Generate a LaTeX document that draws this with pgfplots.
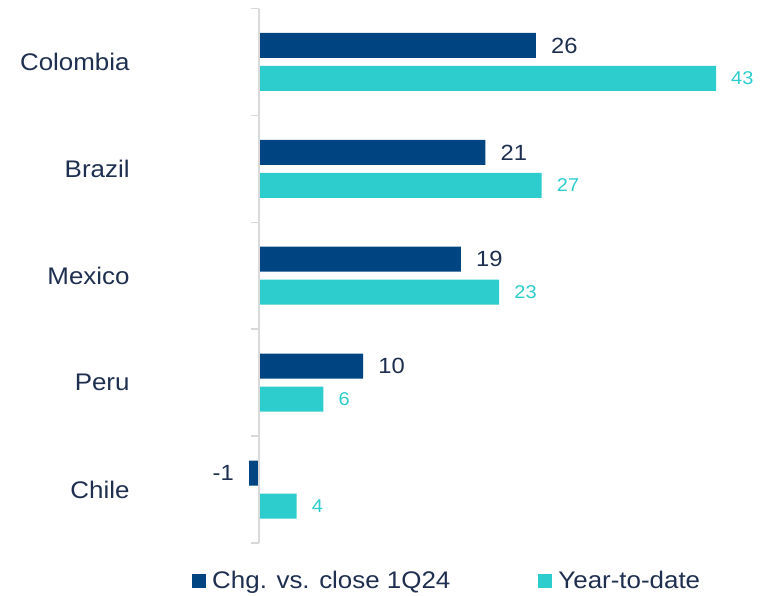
\documentclass[border=0pt]{standalone}
\usepackage{pgfplots}
\pgfplotsset{compat=1.18}
\usepackage{fontspec}
\setmainfont{Liberation Sans}[FakeStretch=1.08]
\definecolor{navy}{HTML}{004481}
\definecolor{aqua}{HTML}{2DCCCD}
\definecolor{txt}{HTML}{1E2F50}
\definecolor{axisgray}{HTML}{D9D9D9}
\begin{document}
\begin{tikzpicture}
\begin{axis}[
  scale only axis, width=765pt, height=595pt,
  xmin=-24.37, xmax=47.61, ymin=-0.987, ymax=4.58,
  axis line style={draw=none},
  tick style={draw=none},
  clip=false,
  xbar, bar width=25pt,
  xtick=\empty,
  ytick={0,1,2,3,4},
  yticklabels={Chile,Peru,Mexico,Brazil,Colombia},
  yticklabel style={anchor=east, xshift=134pt, font=\fontsize{24}{28}\selectfont, text=txt, inner sep=0pt},
  /pgf/number format/assume math mode=true,
  legend columns=2,
  legend style={at={(0.251,0.0235)}, anchor=west, draw=none, fill=none, inner sep=0pt,
    font=\fontsize{24}{28}\selectfont, text=txt,
    /tikz/every even column/.append style={column sep=82pt},
    /tikz/every odd column/.append style={column sep=0pt},
    nodes={inner xsep=6pt, inner ysep=0pt}},
  legend image code/.code={\fill[#1] (0pt,-7pt) rectangle (14pt,7pt);},
]
\addplot[fill=navy, draw=none, bar shift=16.5pt,
  nodes near coords,
  nodes near coords={\pgfmathprintnumber[fixed,precision=0]{\pgfplotspointmeta}},
  every node near coord/.append style={font=\fontsize{22}{26}\selectfont, text=txt, inner xsep=15pt}]
  coordinates {(-0.94,0) (9.8,1) (19.0,2) (21.3,3) (26.06,4)};
\addplot[fill=aqua, draw=none, bar shift=-16.5pt,
  nodes near coords,
  nodes near coords={\pgfmathprintnumber[fixed,precision=0]{\pgfplotspointmeta}},
  every node near coord/.append style={font=\fontsize{18.5}{22}\selectfont, text=aqua, inner xsep=15pt}]
  coordinates {(3.55,0) (6.05,1) (22.6,2) (26.6,3) (43,4)};
\legend{Chg. vs. close 1Q24, Year-to-date}
\draw[axisgray, line width=1.5pt] (axis cs:0,4.5) -- (axis cs:0,-0.5);
\draw[axisgray, line width=1.5pt] (axis cs:0,4.5) -- (axis cs:-0.75,4.5);
\draw[axisgray, line width=1.5pt] (axis cs:0,3.5) -- (axis cs:-0.75,3.5);
\draw[axisgray, line width=1.5pt] (axis cs:0,2.5) -- (axis cs:-0.75,2.5);
\draw[axisgray, line width=1.5pt] (axis cs:0,1.5) -- (axis cs:-0.75,1.5);
\draw[axisgray, line width=1.5pt] (axis cs:0,0.5) -- (axis cs:-0.75,0.5);
\draw[axisgray, line width=1.5pt] (axis cs:0,-0.5) -- (axis cs:-0.75,-0.5);
\coordinate (bl) at (rel axis cs:0,0);
\coordinate (tr) at (rel axis cs:1,1);
\end{axis}
\pgfresetboundingbox
\path[use as bounding box] (bl) rectangle (tr);
\end{tikzpicture}
\end{document}
